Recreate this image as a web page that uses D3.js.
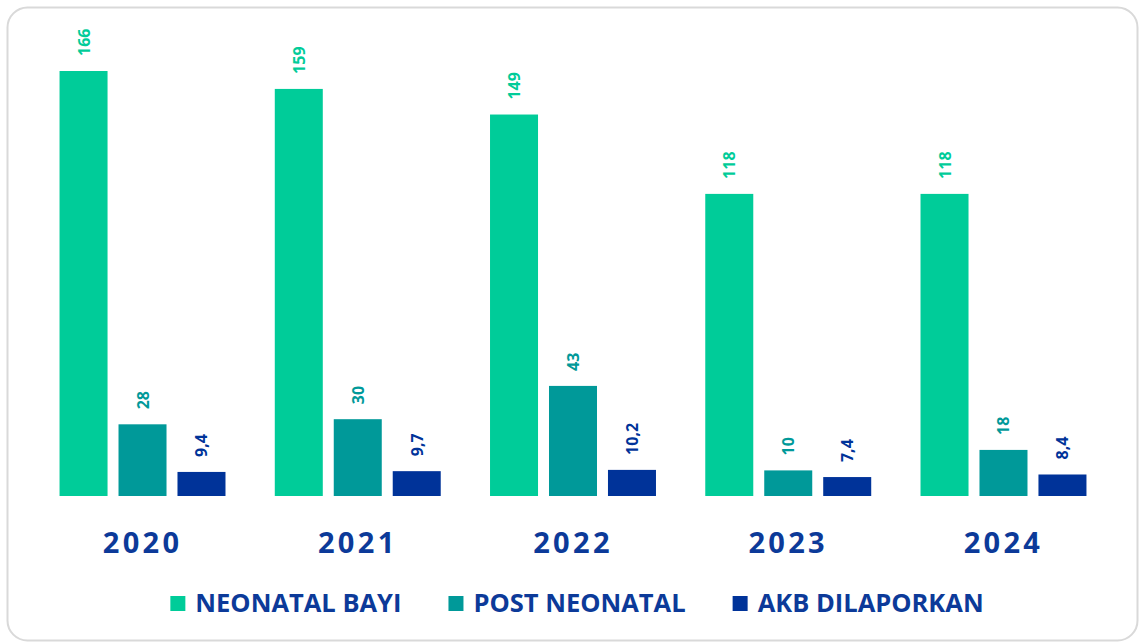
<!DOCTYPE html>
<html>
<head>
<meta charset="utf-8">
<script src="https://cdn.jsdelivr.net/npm/d3@7"></script>
<style>
  body { margin: 0; background: #fff; }
  svg { display: block; font-family: "Open Sans", "Noto Sans", sans-serif; }
</style>
</head>
<body>
<div id="chart"></div>
<script>
const years = ['2020', '2021', '2022', '2023', '2024'];
const series = ['NEONATAL BAYI', 'POST NEONATAL', 'AKB DILAPORKAN'];
const neonatal = [166, 159, 149, 118, 118];
const postNeonatal = [28, 30, 43, 10, 18];
const akb = [9.4, 9.7, 10.2, 7.4, 8.4];
const colors = ['#00cc99', '#009999', '#003399'];

const width = 1139;
const height = 642;
const textBlue = '#0c3a99';

const svg = d3.select('#chart')
    .append('svg')
    .attr('width', width)
    .attr('height', height);

// frame
svg.append('rect')
    .attr('x', 7.5)
    .attr('y', 7.5)
    .attr('width', 1130)
    .attr('height', 633)
    .attr('rx', 20)
    .attr('fill', '#fff')
    .attr('stroke', '#d9d9d9')
    .attr('stroke-width', 2);

const table = years.map((y, i) => ({
    year: y,
    values: [neonatal[i], postNeonatal[i], akb[i]]
}));

const x = d3.scaleBand()
    .domain(years)
    .range([35, 1111])
    .paddingInner(0.229)
    .paddingOuter(0.114);

const xs = d3.scaleBand()
    .domain(d3.range(series.length))
    .range([0, x.bandwidth()])
    .paddingInner(0.186)
    .paddingOuter(0);

const y = d3.scaleLinear()
    .domain([0, 166])
    .range([496, 71]);

const fmt = v => String(v).replace('.', ',');

const groups = svg.append('g')
    .selectAll('g')
    .data(table)
    .join('g')
    .attr('transform', d => `translate(${x(d.year)},0)`);

groups.selectAll('rect')
    .data(d => d.values)
    .join('rect')
    .attr('x', (d, i) => xs(i))
    .attr('y', d => y(d))
    .attr('width', xs.bandwidth())
    .attr('height', d => y(0) - y(d))
    .attr('fill', (d, i) => colors[i]);

groups.selectAll('text')
    .data(d => d.values)
    .join('text')
    .attr('transform', (d, i) => `translate(${xs(i) + xs.bandwidth() / 2 + 6},${y(d) - 15}) rotate(-90)`)
    .attr('text-anchor', 'start')
    .attr('font-size', '16px')
    .attr('font-weight', 'bold')
    .attr('fill', (d, i) => colors[i])
    .text(d => fmt(d));

// x axis labels
const xAxis = svg.append('g')
    .attr('transform', 'translate(0,496)')
    .call(d3.axisBottom(x).tickSize(0).tickPadding(0));
xAxis.select('.domain').remove();
xAxis.selectAll('text')
    .attr('y', 57)
    .attr('dy', 0)
    .attr('font-family', '"Open Sans", sans-serif')
    .attr('font-size', '29px')
    .attr('font-weight', 'bold')
    .attr('letter-spacing', '3.3px')
    .attr('fill', textBlue);

// legend
const legend = svg.append('g');
let cx = 0;
series.forEach((s, i) => {
    const item = legend.append('g').attr('transform', `translate(${cx},0)`);
    item.append('rect')
        .attr('x', 0).attr('y', 596)
        .attr('width', 15).attr('height', 15)
        .attr('fill', colors[i]);
    const t = item.append('text')
        .attr('x', 25).attr('y', 612)
        .attr('font-size', '25.5px')
        .attr('font-weight', 'bold')
        .attr('fill', textBlue)
        .text(s);
    cx += 25 + t.node().getComputedTextLength() + 47;
});
const legendWidth = cx - 47;
legend.attr('transform', `translate(${577 - legendWidth / 2},0)`);
</script>
</body>
</html>
